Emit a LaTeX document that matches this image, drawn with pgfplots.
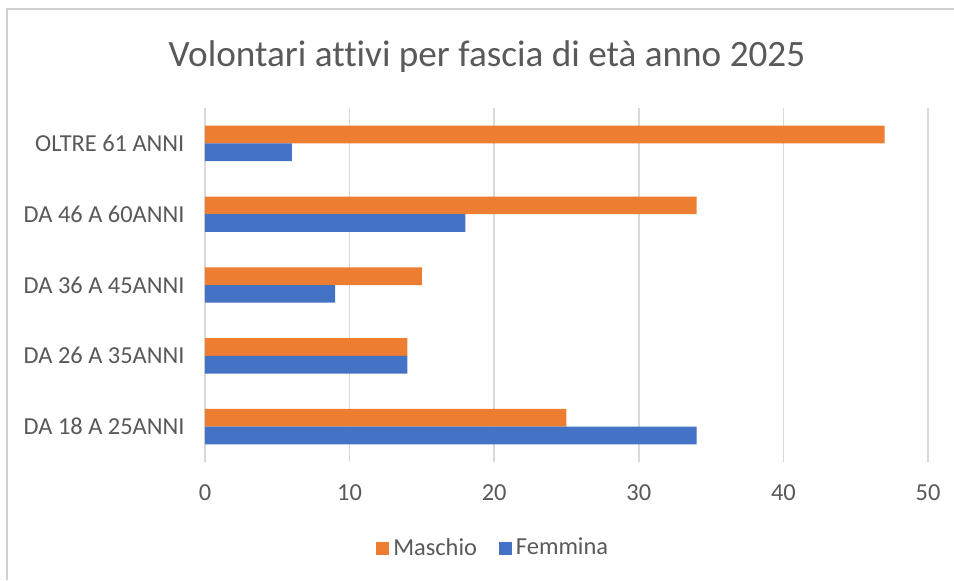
\documentclass[border=0pt]{standalone}
\usepackage{pgfplots}
\pgfplotsset{compat=1.18}
\usepackage{fontspec}
\setmainfont{Carlito}[Ligatures=NoCommon]
\definecolor{maschio}{HTML}{ED7D31}
\definecolor{femmina}{HTML}{4472C4}
\definecolor{gridgray}{HTML}{D9D9D9}
\definecolor{txtgray}{HTML}{595959}
\definecolor{framegray}{HTML}{D0D0D0}

\begin{document}
\begin{tikzpicture}
% canvas: 954x580 px at 0.5pt per px, origin top-left
\useasboundingbox (0,0) rectangle (477pt,-290pt);
\fill[white] (0,0) rectangle (477pt,-290pt);
\draw[framegray, line width=1pt] (3.5pt,-290pt) -- (3.5pt,-4.5pt) -- (477pt,-4.5pt);
\node[anchor=base, text=txtgray, font=\fontsize{18.6}{22}\selectfont]
  at (243.5pt,-33pt) {Volontari attivi per fascia di età anno 2025};

\begin{axis}[
  at={(102.5pt,-231pt)}, anchor=south west,
  xbar, scale only axis, width=361.5pt, height=177pt,
  bar width=0.25,
  xmin=0, xmax=50, ymin=-0.5, ymax=4.5,
  enlarge y limits=false,
  axis line style={draw=none},
  xmajorgrids, grid style={gridgray, line width=0.75pt},
  xtick={0,10,20,30,40,50},
  ytick={0,1,2,3,4},
  yticklabels={DA 18 A 25ANNI, DA 26 A 35ANNI, DA 36 A 45ANNI, DA 46 A 60ANNI, OLTRE 61 ANNI},
  tick style={draw=none},
  /pgf/number format/assume math mode=true,
  tick label style={font=\fontsize{12.2}{14}\selectfont, text=txtgray},
  yticklabel style={anchor=east, xshift=-2.5pt},
  xticklabel style={anchor=center, yshift=-15.5pt},
  legend columns=2,
  legend style={at={(0.40,-0.243)}, anchor=center, draw=none, fill=none,
    font=\fontsize{12.2}{14}\selectfont, text=txtgray,
    /tikz/every even column/.style={column sep=9pt}},
  legend image code/.code={\fill[#1,draw=none] (-1.5pt,-3.25pt) rectangle (5pt,3.25pt);},
]
\addplot[fill=maschio, draw=none, bar shift=0.125] coordinates {(25,0) (14,1) (15,2) (34,3) (47,4)};
\addplot[fill=femmina, draw=none, bar shift=-0.125] coordinates {(34,0) (14,1) (9,2) (18,3) (6,4)};
\legend{Maschio, Femmina}
\end{axis}
\end{tikzpicture}
\end{document}
